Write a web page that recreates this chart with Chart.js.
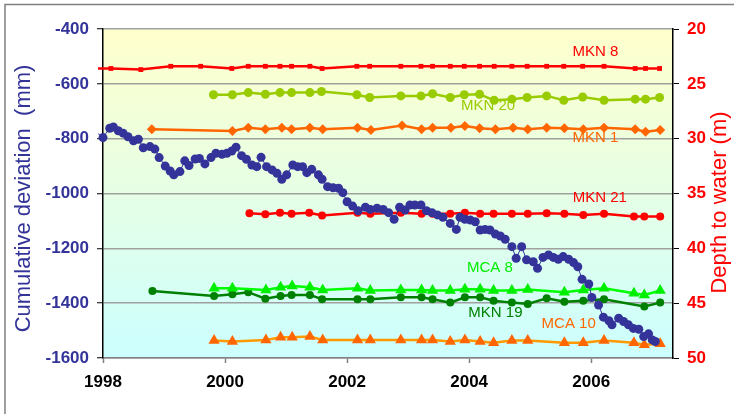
<!DOCTYPE html>
<html><head><meta charset="utf-8">
<script src="https://cdn.jsdelivr.net/npm/chart.js@4"></script>
<style>html,body{margin:0;padding:0;background:#fff}#wrap{width:734px;height:414px;position:relative}</style>
</head><body><div id="wrap"><canvas id="c"></canvas></div>
<script>
// ---- tick labels ----
const xTicks = [1998, 2000, 2002, 2004, 2006];
const leftTicks = [-1600, -1400, -1200, -1000, -800, -600, -400];
const rightTicks = [20, 25, 30, 35, 40, 45, 50];

// ---- cumulative deviation (mm), left axis ----
const cumYears = [1997.92,1998.00,1998.11,1998.17,1998.25,1998.33,1998.41,1998.50,1998.58,1998.66,1998.77,1998.85,1998.92,1999.02,1999.10,1999.16,1999.26,1999.34,1999.41,1999.51,1999.58,1999.67,1999.77,1999.85,1999.95,2000.03,2000.11,2000.18,2000.27,2000.35,2000.44,2000.52,2000.59,2000.68,2000.77,2000.85,2000.93,2001.01,2001.11,2001.19,2001.27,2001.34,2001.42,2001.53,2001.59,2001.68,2001.77,2001.86,2001.93,2002.00,2002.09,2002.18,2002.30,2002.38,2002.49,2002.59,2002.68,2002.77,2002.86,2002.95,2003.03,2003.11,2003.21,2003.30,2003.39,2003.48,2003.57,2003.69,2003.79,2003.85,2003.93,2004.02,2004.10,2004.18,2004.26,2004.34,2004.43,2004.51,2004.59,2004.70,2004.77,2004.86,2004.94,2005.05,2005.12,2005.21,2005.30,2005.38,2005.46,2005.54,2005.63,2005.71,2005.78,2005.85,2005.96,2006.01,2006.12,2006.20,2006.29,2006.34,2006.45,2006.53,2006.61,2006.69,2006.78,2006.86,2006.94,2007.00,2007.05];
const cumMm = [-782,-796,-762,-757,-771,-780,-793,-808,-802,-833,-829,-838,-869,-900,-918,-932,-920,-881,-898,-874,-872,-892,-869,-853,-857,-853,-845,-831,-862,-875,-896,-902,-868,-902,-914,-926,-948,-932,-896,-902,-902,-924,-912,-932,-948,-975,-979,-981,-997,-1030,-1046,-1063,-1050,-1058,-1054,-1058,-1070,-1094,-1050,-1060,-1042,-1042,-1042,-1063,-1070,-1078,-1087,-1109,-1131,-1087,-1094,-1097,-1103,-1133,-1131,-1133,-1148,-1155,-1167,-1194,-1236,-1194,-1242,-1249,-1273,-1233,-1224,-1233,-1240,-1230,-1240,-1252,-1267,-1313,-1330,-1379,-1407,-1451,-1464,-1479,-1455,-1467,-1479,-1492,-1495,-1522,-1512,-1534,-1540];

// ---- depth to water (m), right axis ----
const mkn8Years = [1997.90,1998.13,1998.62,1999.11,1999.60,2000.11,2000.38,2000.66,2000.90,2001.09,2001.39,2001.59,2002.16,2002.37,2002.88,2003.21,2003.40,2003.69,2003.92,2004.17,2004.41,2004.70,2004.95,2005.27,2005.55,2005.86,2006.21,2006.72,2006.89,2007.12];
const mkn8Depth = [23.6,23.6,23.7,23.4,23.4,23.6,23.4,23.4,23.4,23.4,23.4,23.6,23.4,23.4,23.4,23.4,23.4,23.4,23.4,23.4,23.4,23.4,23.4,23.4,23.4,23.4,23.4,23.6,23.6,23.6];

const mkn20Years = [1999.81,2000.12,2000.38,2000.66,2000.90,2001.09,2001.39,2001.58,2002.16,2002.37,2002.88,2003.21,2003.40,2003.69,2003.92,2004.17,2004.41,2004.70,2004.95,2005.27,2005.55,2005.86,2006.21,2006.72,2006.89,2007.12];
const mkn20Depth = [26.0,26.0,25.8,25.95,25.8,25.8,25.8,25.7,26.0,26.25,26.1,26.1,25.9,26.25,26.0,25.95,26.5,26.4,26.25,26.1,26.5,26.2,26.5,26.4,26.4,26.25];

const mkn1Years = [1998.80,2000.12,2000.38,2000.66,2000.93,2001.09,2001.39,2001.60,2002.17,2002.39,2002.90,2003.22,2003.40,2003.70,2003.93,2004.17,2004.43,2004.72,2004.96,2005.27,2005.56,2005.87,2006.21,2006.72,2006.89,2007.13];
const mkn1Depth = [29.14,29.3,29.0,29.14,29.0,29.14,29.0,29.14,29.0,29.2,28.8,29.14,29.0,29.0,28.85,29.05,29.14,29.0,29.14,29.0,29.05,29.14,29.0,29.14,29.36,29.2];

const mkn21Years = [2000.40,2000.66,2000.90,2001.09,2001.38,2001.59,2002.17,2002.38,2002.88,2003.22,2003.40,2003.69,2003.93,2004.18,2004.40,2004.70,2004.96,2005.27,2005.56,2005.87,2006.21,2006.70,2006.87,2007.13];
const mkn21Depth = [36.8,36.9,36.75,36.85,36.75,37.0,36.75,36.85,36.75,36.85,36.85,36.85,36.75,36.85,36.85,36.85,36.85,36.8,36.85,36.95,36.85,37.1,37.1,37.1];

const mca8Years = [1999.82,2000.12,2000.67,2000.91,2001.10,2001.39,2001.60,2002.17,2002.38,2002.88,2003.22,2003.40,2003.69,2003.93,2004.18,2004.40,2004.70,2004.96,2005.56,2005.87,2006.21,2006.70,2006.87,2007.13];
const mca8Depth = [43.64,43.64,43.8,43.55,43.43,43.55,43.8,43.64,43.85,43.8,43.8,43.85,43.85,43.73,43.73,43.85,43.85,43.75,44.0,43.8,43.64,44.1,44.25,43.85];

const mkn19Years = [1998.81,1999.82,2000.12,2000.38,2000.66,2000.91,2001.09,2001.39,2001.59,2002.17,2002.38,2002.88,2003.22,2003.40,2003.69,2003.93,2004.18,2004.40,2004.70,2004.96,2005.27,2005.56,2005.87,2006.21,2006.87,2007.13];
const mkn19Depth = [43.88,44.34,44.19,44.0,44.6,44.34,44.25,44.25,44.64,44.64,44.64,44.46,44.46,44.64,44.95,44.46,44.46,44.77,44.95,45.07,44.55,44.86,44.77,44.64,45.3,44.95];

const mca10Years = [1999.82,2000.12,2000.67,2000.91,2001.10,2001.39,2001.60,2002.17,2002.38,2002.88,2003.22,2003.40,2003.69,2003.93,2004.18,2004.40,2004.70,2004.96,2005.56,2005.87,2006.21,2006.70,2006.87,2007.13];
const mca10Depth = [48.41,48.5,48.35,48.1,48.1,48.05,48.35,48.35,48.35,48.35,48.35,48.35,48.5,48.35,48.5,48.6,48.4,48.4,48.6,48.6,48.4,48.6,48.8,48.7];

// ---- series labels (text, anchor year, anchor depth) ----
const labelNames = ['MKN 8','MKN 20','MKN 1','MKN 21','MCA 8','MKN 19','MCA 10'];
const labelYears = [2006.07,2004.31,2006.07,2006.14,2004.34,2004.43,2005.63];
const labelDepths = [22.07,27.02,29.9,35.36,41.74,45.89,46.89];
const labelColors = ['#FF0000','#99CC00','#FF6600','#FF0000','#00EE00','#008000','#FF6600'];

const FONT = 'Arial, "Liberation Sans", sans-serif';
const zip = (xs, ys) => xs.map((x, i) => ({x: x, y: ys[i]}));
const hidePre = r => c => (c.raw && c.raw.x < 1998 ? 0 : r);

function well(label, xs, ys, line, pt, style, radius) {
  return {
    label: label, data: zip(xs, ys), yAxisID: 'y2',
    borderColor: line, backgroundColor: pt, borderWidth: 2.5,
    pointStyle: style, pointRadius: hidePre(radius), pointBackgroundColor: pt,
    pointBorderColor: pt, pointBorderWidth: 0, tension: 0,
    clip: {left: 5, top: 0, right: 0, bottom: 0}
  };
}

const decor = {
  id: 'decor',
  beforeDraw(chart) {
    const {ctx, chartArea: a} = chart;
    ctx.save();
    ctx.fillStyle = '#fff';
    ctx.fillRect(0, 0, chart.width, chart.height);
    const g = ctx.createLinearGradient(0, a.top, 0, a.bottom);
    g.addColorStop(0, '#FFFFCC');
    g.addColorStop(1, '#CCFFFF');
    ctx.fillStyle = g;
    ctx.fillRect(a.left, a.top, a.right - a.left, a.bottom - a.top);
    ctx.strokeStyle = '#808080';
    ctx.lineWidth = 1.5;
    ctx.beginPath();
    ctx.moveTo(5, chart.height + 2);
    ctx.lineTo(5, 4.5);
    ctx.lineTo(chart.width + 2, 4.5);
    ctx.stroke();
    ctx.restore();
  },
  afterDraw(chart) {
    const {ctx} = chart;
    const xs = chart.scales.x, ys = chart.scales.y2;
    ctx.save();
    ctx.font = '22px ' + FONT;
    ctx.textAlign = 'center';
    ctx.textBaseline = 'middle';
    ctx.fillStyle = '#333399';
    ctx.translate(24, 198.5);
    ctx.rotate(-Math.PI / 2);
    ctx.fillText('Cumulative deviation  (mm)', 0, 0);
    ctx.restore();
    ctx.save();
    ctx.font = '22px ' + FONT;
    ctx.textAlign = 'center';
    ctx.textBaseline = 'middle';
    ctx.fillStyle = '#FF0000';
    ctx.translate(720, 202.5);
    ctx.rotate(-Math.PI / 2);
    ctx.fillText('Depth to water (m)', 0, 0);
    ctx.restore();
    ctx.save();
    ctx.font = '15px ' + FONT;
    ctx.textAlign = 'center';
    ctx.textBaseline = 'middle';
    labelNames.forEach((t, i) => {
      ctx.fillStyle = labelColors[i];
      ctx.fillText(t, xs.getPixelForValue(labelYears[i]), ys.getPixelForValue(labelDepths[i]));
    });
    ctx.restore();
  }
};

new Chart(document.getElementById('c'), {
  type: 'line',
  data: {
    datasets: [
      {label: 'Cumulative deviation', data: zip(cumYears, cumMm), yAxisID: 'y',
       borderColor: '#333399', backgroundColor: '#333399', borderWidth: 1,
       pointRadius: hidePre(4.5), pointBackgroundColor: '#333399', pointBorderColor: '#333399',
       pointBorderWidth: 0, tension: 0, clip: {left: 5, top: 0, right: 0, bottom: 0}},
      well('MKN 8', mkn8Years, mkn8Depth, '#FF0000', '#FF0000', 'rect', 3.4),
      well('MKN 20', mkn20Years, mkn20Depth, '#99CC00', '#99CC00', 'circle', 4.5),
      well('MKN 1', mkn1Years, mkn1Depth, '#FF6600', '#FF6600', 'rectRot', 5),
      well('MKN 21', mkn21Years, mkn21Depth, '#FF0000', '#FF0000', 'circle', 4),
      well('MCA 8', mca8Years, mca8Depth, '#00FF00', '#00EE00', 'triangle', 6.5),
      well('MKN 19', mkn19Years, mkn19Depth, '#008000', '#008000', 'circle', 4),
      well('MCA 10', mca10Years, mca10Depth, '#FF9900', '#FF6600', 'triangle', 6.5)
    ]
  },
  options: {
    responsive: true, maintainAspectRatio: false, animation: false,
    layout: {padding: {top: 29, left: 0, right: 0, bottom: 0}},
    plugins: {legend: {display: false}, tooltip: {enabled: false}},
    scales: {
      x: {
        type: 'linear', min: 1998, max: 2007.34,
        afterBuildTicks: s => { s.ticks = xTicks.map(v => ({value: v})); },
        afterFit: s => { s.height = 56; },
        ticks: {font: {size: 17, weight: 'bold', family: FONT}, color: '#000', padding: 9,
                maxRotation: 0, autoSkip: false, callback: v => String(v)},
        grid: {drawOnChartArea: false, drawTicks: true, tickLength: 5, tickColor: '#808080', tickWidth: 1.5},
        border: {display: true, color: '#808080', width: 1.5}
      },
      y: {
        type: 'linear', position: 'left', min: -1600, max: -400,
        afterBuildTicks: s => { s.ticks = leftTicks.map(v => ({value: v})); },
        afterFit: s => { s.width = 103; },
        ticks: {font: {size: 17, weight: 'bold', family: FONT}, color: '#333399', padding: 8, callback: v => String(v)},
        grid: {color: '#A0A0A0', lineWidth: 1.5, tickLength: 6, tickColor: '#000', tickWidth: 1},
        border: {display: true, color: '#000', width: 1.5}
      },
      y2: {
        type: 'linear', position: 'right', min: 20, max: 50, reverse: true,
        afterBuildTicks: s => { s.ticks = rightTicks.map(v => ({value: v})); },
        afterFit: s => { s.width = 61; },
        ticks: {font: {size: 17, weight: 'bold', family: FONT}, color: '#FF0000', padding: 8, callback: v => String(v)},
        grid: {drawOnChartArea: false, tickLength: 6, tickColor: '#000', tickWidth: 1},
        border: {display: true, color: '#000', width: 1.5}
      }
    }
  },
  plugins: [decor]
});
</script>
</body></html>
